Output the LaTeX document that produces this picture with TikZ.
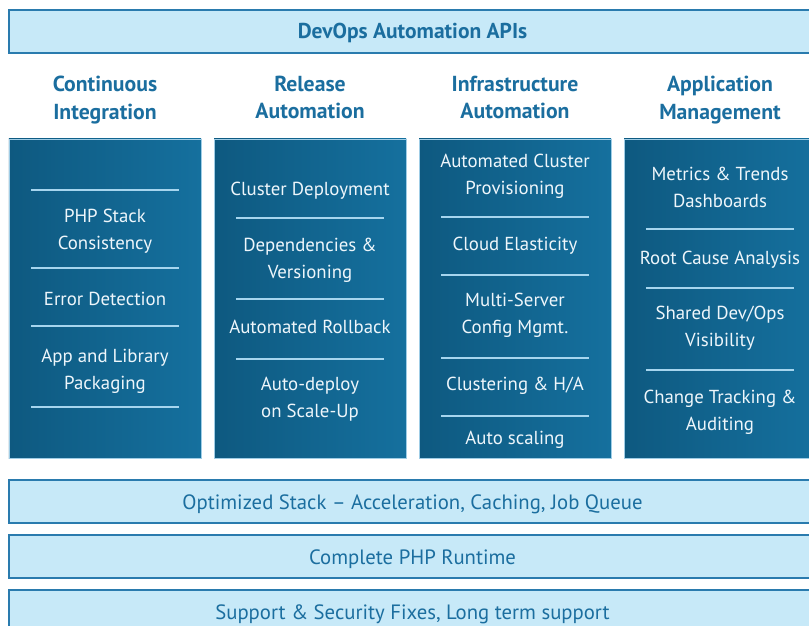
\documentclass[tikz,border=0pt]{standalone}
\usepackage{fontspec}
\setmainfont{PT Sans}
\definecolor{barfill}{HTML}{C7E9F8}
\definecolor{barline}{HTML}{2A7BAE}
\definecolor{ink}{HTML}{1B6E9F}
\definecolor{coldark}{HTML}{0E5980}
\definecolor{collight}{HTML}{15709E}
\definecolor{colrim}{HTML}{9FCDE6}
\definecolor{rulecol}{HTML}{A6D5EE}
\definecolor{coltext}{HTML}{EEF6FB}
\begin{document}
\begin{tikzpicture}[x=1bp,y=-1bp,
  bar/.style={draw=barline, line width=1.3bp, fill=barfill, minimum width=807bp,
    minimum height=43bp, inner sep=0pt, text=ink, text height=16bp, text depth=0pt,
    font=\fontsize{20.8}{24}\selectfont},
  titlebar/.style={bar, text height=15bp, font=\fontsize{21.6}{24}\selectfont\bfseries},
  column/.style={draw=colrim, line width=0.6bp, left color=coldark, right color=collight,
    minimum width=192bp, minimum height=319bp, inner sep=0pt},
  head/.style={align=center, text=ink, font=\fontsize{21.8}{27.5}\selectfont\bfseries, yshift=-2.5bp},
  item/.style={align=center, text=coltext, font=\fontsize{18.9}{27.5}\selectfont, yshift=-2.5bp},
  % last line without descenders: lift to keep the same baseline
  flat/.style={yshift=2.4bp},
  sepline/.style={draw=rulecol, line width=1.1bp}
]
\useasboundingbox (0,0) rectangle (809,626);

% layer bars
\node[titlebar] (apis) at (412.5,31.5) {DevOps Automation APIs};
\node[bar] (stack)   at (412.5,501.5) {Optimized Stack – Acceleration, Caching, Job Queue};
\node[bar] (runtime) at (412.5,556.5) {Complete PHP Runtime};
\node[bar] (support) at (412.5,611.5) {Support \& Security Fixes, Long term support};

% column headings
\node[head] (h1) at (105,97.5) {Continuous\\Integration};
\node[head,flat] (h2) at (310,97.5) {Release\\Automation};
\node[head,flat] (h3) at (515,97.5) {Infrastructure\\Automation};
\node[head] (h4) at (720,97.5) {Application\\Management};

% column panels
\node[column] (c1) at (105,298.5) {};
\node[column] (c2) at (310,298.5) {};
\node[column] (c3) at (515,298.5) {};
\node[column] (c4) at (720,298.5) {};

% Continuous Integration
\foreach \y in {190,268,326,407} \draw[sepline] (31,\y) -- (179,\y);
\node[item] (ci1) at (105,229) {PHP Stack\\Consistency};
\node[item,flat] (ci2) at (105,299) {Error Detection};
\node[item] (ci3) at (105,368.5) {App and Library\\Packaging};

% Release Automation
\foreach \y in {218,299,359} \draw[sepline] (236,\y) -- (384,\y);
\node[item] (ra1) at (310,188) {Cluster Deployment};
\node[item] (ra2) at (310,258) {Dependencies \&\\Versioning};
\node[item,flat] (ra3) at (310,327) {Automated Rollback};
\node[item] (ra4) at (310,396.5) {Auto-deploy\\on Scale-Up};

% Infrastructure Automation
\foreach \y in {217,275,358,416} \draw[sepline] (441,\y) -- (589,\y);
\node[item] (ia1) at (515,174) {Automated Cluster\\Provisioning};
\node[item] (ia2) at (515,243) {Cloud Elasticity};
\node[item] (ia3) at (515,312.5) {Multi-Server\\Config Mgmt.};
\node[item] (ia4) at (515,383) {Clustering \& H/A};
\node[item] (ia5) at (515,437) {Auto scaling};

% Application Management
\foreach \y in {229,288,370} \draw[sepline] (646,\y) -- (794,\y);
\node[item,flat] (am1) at (720,187.5) {Metrics \& Trends\\Dashboards};
\node[item] (am2) at (720,257) {Root Cause Analysis};
\node[item] (am3) at (720,326) {Shared Dev/Ops\\Visibility};
\node[item] (am4) at (720,409.5) {Change Tracking \&\\Auditing};
\end{tikzpicture}
\end{document}
